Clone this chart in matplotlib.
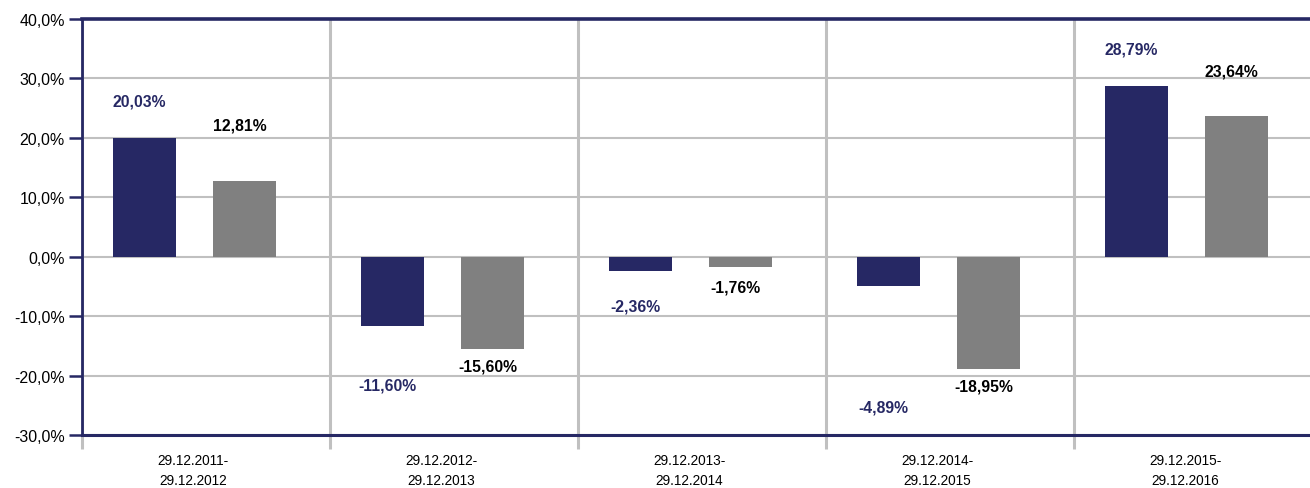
import matplotlib
matplotlib.use("Agg")
import matplotlib.pyplot as plt
import numpy as np

periods = ["29.12.2011-\n29.12.2012", "29.12.2012-\n29.12.2013", "29.12.2013-\n29.12.2014",
           "29.12.2014-\n29.12.2015", "29.12.2015-\n29.12.2016"]
fund = [20.03, -11.60, -2.36, -4.89, 28.79]
bench = [12.81, -15.60, -1.76, -18.95, 23.64]
fund_label_offset = [6.1, -10.0, -6.0, -20.4, 6.1]
bench_label_offset = [9.3, -2.8, -3.3, -2.8, 7.6]
yticks = [-30, -20, -10, 0, 10, 20, 30, 40]

NAVY = "#262864"
GREY = "#808080"
GRID = "#c0c0c0"

plt.rcParams['font.family'] = ['Liberation Sans', 'DejaVu Sans']

fig = plt.figure(figsize=(13.10, 4.89), dpi=100)
ax = fig.add_axes([82/1310, 1-436/489, 1-82/1310, (436-20)/489])

x = np.arange(len(periods))
w = 0.254
xf = x - 0.248
xb = x + 0.155
ax.bar(xf, fund, width=w, color=NAVY, zorder=3)
ax.bar(xb, bench, width=w, color=GREY, zorder=3)

def fmt(v):
    return f"{v:.2f}".replace(".", ",") + "%"

for xi, v, o in zip(xf, fund, fund_label_offset):
    ax.text(xi - 0.02, v + o, fmt(v), ha="center", va="center", fontsize=11.3,
            fontweight="bold", color=NAVY, zorder=4)
for xi, v, o in zip(xb, bench, bench_label_offset):
    ax.text(xi - 0.02, v + o, fmt(v), ha="center", va="center", fontsize=11.3,
            fontweight="bold", color="black", zorder=4)

ax.set_ylim(-30, 40)
ax.set_xlim(-0.5, -0.5 + 1228/248)
ax.set_yticks(yticks)
ax.set_yticklabels([f"{t:.1f}".replace(".", ",") + "%" for t in yticks], fontsize=11.5)
ax.tick_params(axis="y", direction="out", length=9.4, width=1.8, color=NAVY, pad=3)

ax.set_xticks([-0.5, 0.5, 1.5, 2.5, 3.5])
ax.set_xticklabels([])
ax.tick_params(axis="x", which="major", direction="out", length=10, width=2.2, color=GRID)
ax.set_xticks(x - 0.052, minor=True)
ax.set_xticklabels(periods, minor=True, fontsize=9.8, linespacing=1.5)
ax.tick_params(axis="x", which="minor", length=0, pad=13)

ax.grid(axis="y", color=GRID, linewidth=1.5, zorder=0)
ax.grid(axis="x", which="major", color=GRID, linewidth=2.2, zorder=0)
ax.set_axisbelow(True)

for s in ["top", "bottom"]:
    ax.spines[s].set_color(NAVY)
    ax.spines[s].set_linewidth(2.2)
ax.spines["top"].set_linewidth(2.6)
ax.spines["left"].set_color(NAVY)
ax.spines["left"].set_linewidth(2.0)
ax.spines["right"].set_visible(False)

fig.savefig("out.png", dpi=100)
